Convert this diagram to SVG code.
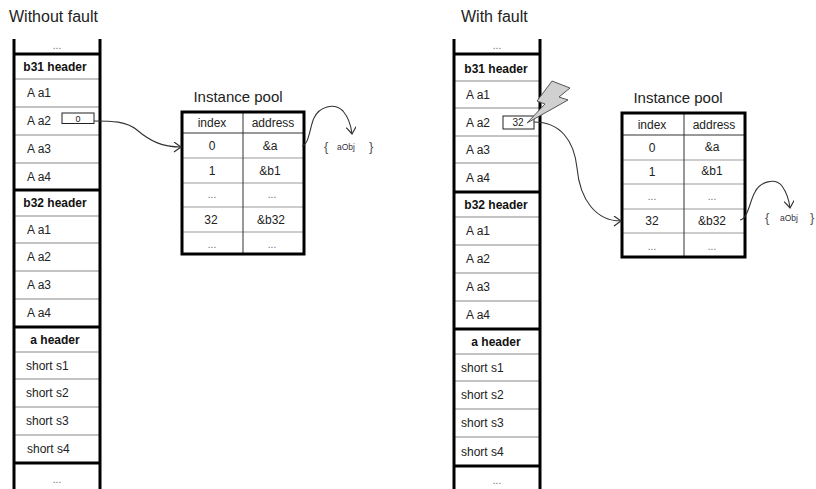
<svg xmlns="http://www.w3.org/2000/svg" width="816" height="489" viewBox="0 0 816 489">
<style>
text{font-family:"Liberation Sans",Arial,sans-serif;fill:#222}
.title{font-size:16px}
.pt{font-size:15px}
.row{font-size:12px}
.hdr{font-size:12px;font-weight:bold;text-anchor:middle;fill:#111}
.dots{font-size:10px;fill:#666;text-anchor:middle}
.c{text-anchor:middle}
.tb{font-size:12px;text-anchor:middle}
.thick{stroke:#000;stroke-width:3;fill:none}
.thin{stroke:#888;stroke-width:1.2;fill:none}
.tl{stroke:#999;stroke-width:1;fill:none}
.cd{stroke:#333;stroke-width:1;fill:none}
.box{fill:#fff;stroke:#222;stroke-width:1}
.small{font-size:9px;text-anchor:middle}
.brace{font-size:13px;fill:#555}
.obj{font-size:8.5px;fill:#334}
.conn{stroke:#333;stroke-width:1.1;fill:none;marker-end:url(#arr)}
</style>
<defs>
<marker id="arr" markerUnits="userSpaceOnUse" markerWidth="12" markerHeight="12" refX="8" refY="5" orient="auto">
<path d="M1,0 L8,5 L1,10" fill="none" stroke="#333" stroke-width="1.2"/>
</marker>
</defs>
<rect width="816" height="489" fill="#fff"/>

<g id="title-left"><text class="title" x="9" y="22">Without fault</text></g>
<g id="title-right"><text class="title" x="461" y="22">With fault</text></g>

<g id="memory-left">
<path class="thin" d="M14,79H100M14,107H100M14,135H100M14,163H100M14,216H100M14,243H100M14,271H100M14,299H100M14,352H100M14,379H100M14,407H100M14,435H100"/>
<path class="thick" d="M14,54H100M14,190H100M14,327H100M14,463H100"/>
<path class="thick" d="M14,39V489M100,39V489"/>
<text class="dots" x="57" y="49">...</text>
<text class="hdr" x="55" y="71">b31 header</text>
<text class="row" x="27" y="97">A a1</text>
<text class="row" x="27" y="125">A a2</text>
<text class="row" x="27" y="153">A a3</text>
<text class="row" x="27" y="181">A a4</text>
<text class="hdr" x="55" y="207">b32 header</text>
<text class="row" x="27" y="234">A a1</text>
<text class="row" x="27" y="261">A a2</text>
<text class="row" x="27" y="289">A a3</text>
<text class="row" x="27" y="317">A a4</text>
<text class="hdr" x="55" y="344">a header</text>
<text class="row" x="26" y="370">short s1</text>
<text class="row" x="26" y="397">short s2</text>
<text class="row" x="26" y="425">short s3</text>
<text class="row" x="27" y="453">short s4</text>
<text class="dots" x="57" y="483">...</text>
<rect class="box" x="62" y="113" width="32" height="10.5"/>
<text class="small" x="78" y="121.5">0</text>
</g>

<g id="memory-right">
<path class="thin" d="M454,81H540M454,108H540M454,136H540M454,163H540M454,217H540M454,245H540M454,273H540M454,301H540M454,354H540M454,381H540M454,409H540M454,437H540"/>
<path class="thick" d="M454,54H540M454,192H540M454,329H540M454,466H540"/>
<path class="thick" d="M454,39V489M540,39V489"/>
<text class="dots" x="497" y="49">...</text>
<text class="hdr" x="496" y="73">b31 header</text>
<text class="row" x="466" y="99">A a1</text>
<text class="row" x="466" y="127">A a2</text>
<text class="row" x="466" y="154">A a3</text>
<text class="row" x="466" y="182">A a4</text>
<text class="hdr" x="496" y="209">b32 header</text>
<text class="row" x="466" y="235">A a1</text>
<text class="row" x="466" y="263">A a2</text>
<text class="row" x="466" y="291">A a3</text>
<text class="row" x="466" y="319">A a4</text>
<text class="hdr" x="496" y="346">a header</text>
<text class="row" x="461" y="372">short s1</text>
<text class="row" x="461" y="399">short s2</text>
<text class="row" x="461" y="427">short s3</text>
<text class="row" x="461" y="456">short s4</text>
<text class="dots" x="497" y="484">...</text>
<rect class="box" x="503" y="116" width="31" height="13"/>
<text class="small" x="518" y="126" style="font-size:10px">32</text>
</g>

<g id="lightning">
<polygon points="552,81 570,88 559,97 568,100 527,123 545,104 537,101" fill="#d0d0d0" stroke="#555" stroke-width="1"/>
</g>

<g id="pool-left">
<text class="pt c" x="238" y="102">Instance pool</text>
<path class="tl" d="M182,158H304M182,183H304M182,207H304M182,232H304"/>
<path class="cd" d="M182,133H304M243,112V254"/>
<rect class="thick" x="182" y="112" width="122" height="142"/>
<text class="tb" x="212" y="127">index</text>
<text class="tb" x="273" y="127">address</text>
<text class="tb" x="212" y="150">0</text>
<text class="tb" x="270" y="150">&amp;a</text>
<text class="tb" x="212" y="175">1</text>
<text class="tb" x="270" y="175">&amp;b1</text>
<text class="dots" x="212" y="198">...</text>
<text class="dots" x="272" y="198">...</text>
<text class="tb" x="211" y="224">32</text>
<text class="tb" x="271" y="224">&amp;b32</text>
<text class="dots" x="212" y="248">...</text>
<text class="dots" x="272" y="248">...</text>
</g>

<g id="aobj-left">
<text class="brace" x="324" y="151">{</text>
<text class="obj" x="337" y="150">aObj</text>
<text class="brace" x="369" y="151">}</text>
</g>

<g id="pool-right">
<text class="pt c" x="678" y="103">Instance pool</text>
<path class="tl" d="M622,160H745M622,184H745M622,209H745M622,233H745"/>
<path class="cd" d="M622,135H745M684,113V257"/>
<rect class="thick" x="622" y="113" width="123" height="144"/>
<text class="tb" x="652" y="129">index</text>
<text class="tb" x="714" y="129">address</text>
<text class="tb" x="652" y="152">0</text>
<text class="tb" x="712" y="151">&amp;a</text>
<text class="tb" x="652" y="176">1</text>
<text class="tb" x="712" y="175">&amp;b1</text>
<text class="dots" x="652" y="200">...</text>
<text class="dots" x="712" y="200">...</text>
<text class="tb" x="652" y="225">32</text>
<text class="tb" x="712" y="225">&amp;b32</text>
<text class="dots" x="652" y="250">...</text>
<text class="dots" x="712" y="250">...</text>
</g>

<g id="aobj-right">
<text class="brace" x="765" y="222">{</text>
<text class="obj" x="780" y="221">aObj</text>
<text class="brace" x="810" y="222">}</text>
</g>

<g id="connectors">
<path class="conn" d="M94,121 C112,121 126,121 137,130 C150,141 162,147 181,147"/>
<path class="conn" d="M302,146 C309,145 310,126 314,118 C319,107 334,102 343,111 C348,117 351,125 352,134"/>
<path class="conn" d="M534,122 C560,122 574,140 577,168 C580,200 596,221 621,221"/>
<path class="conn" d="M740,220 C748,219 750,200 755,192 C760,182 775,177 782,186 C787,193 789,200 790,208"/>
</g>
</svg>
